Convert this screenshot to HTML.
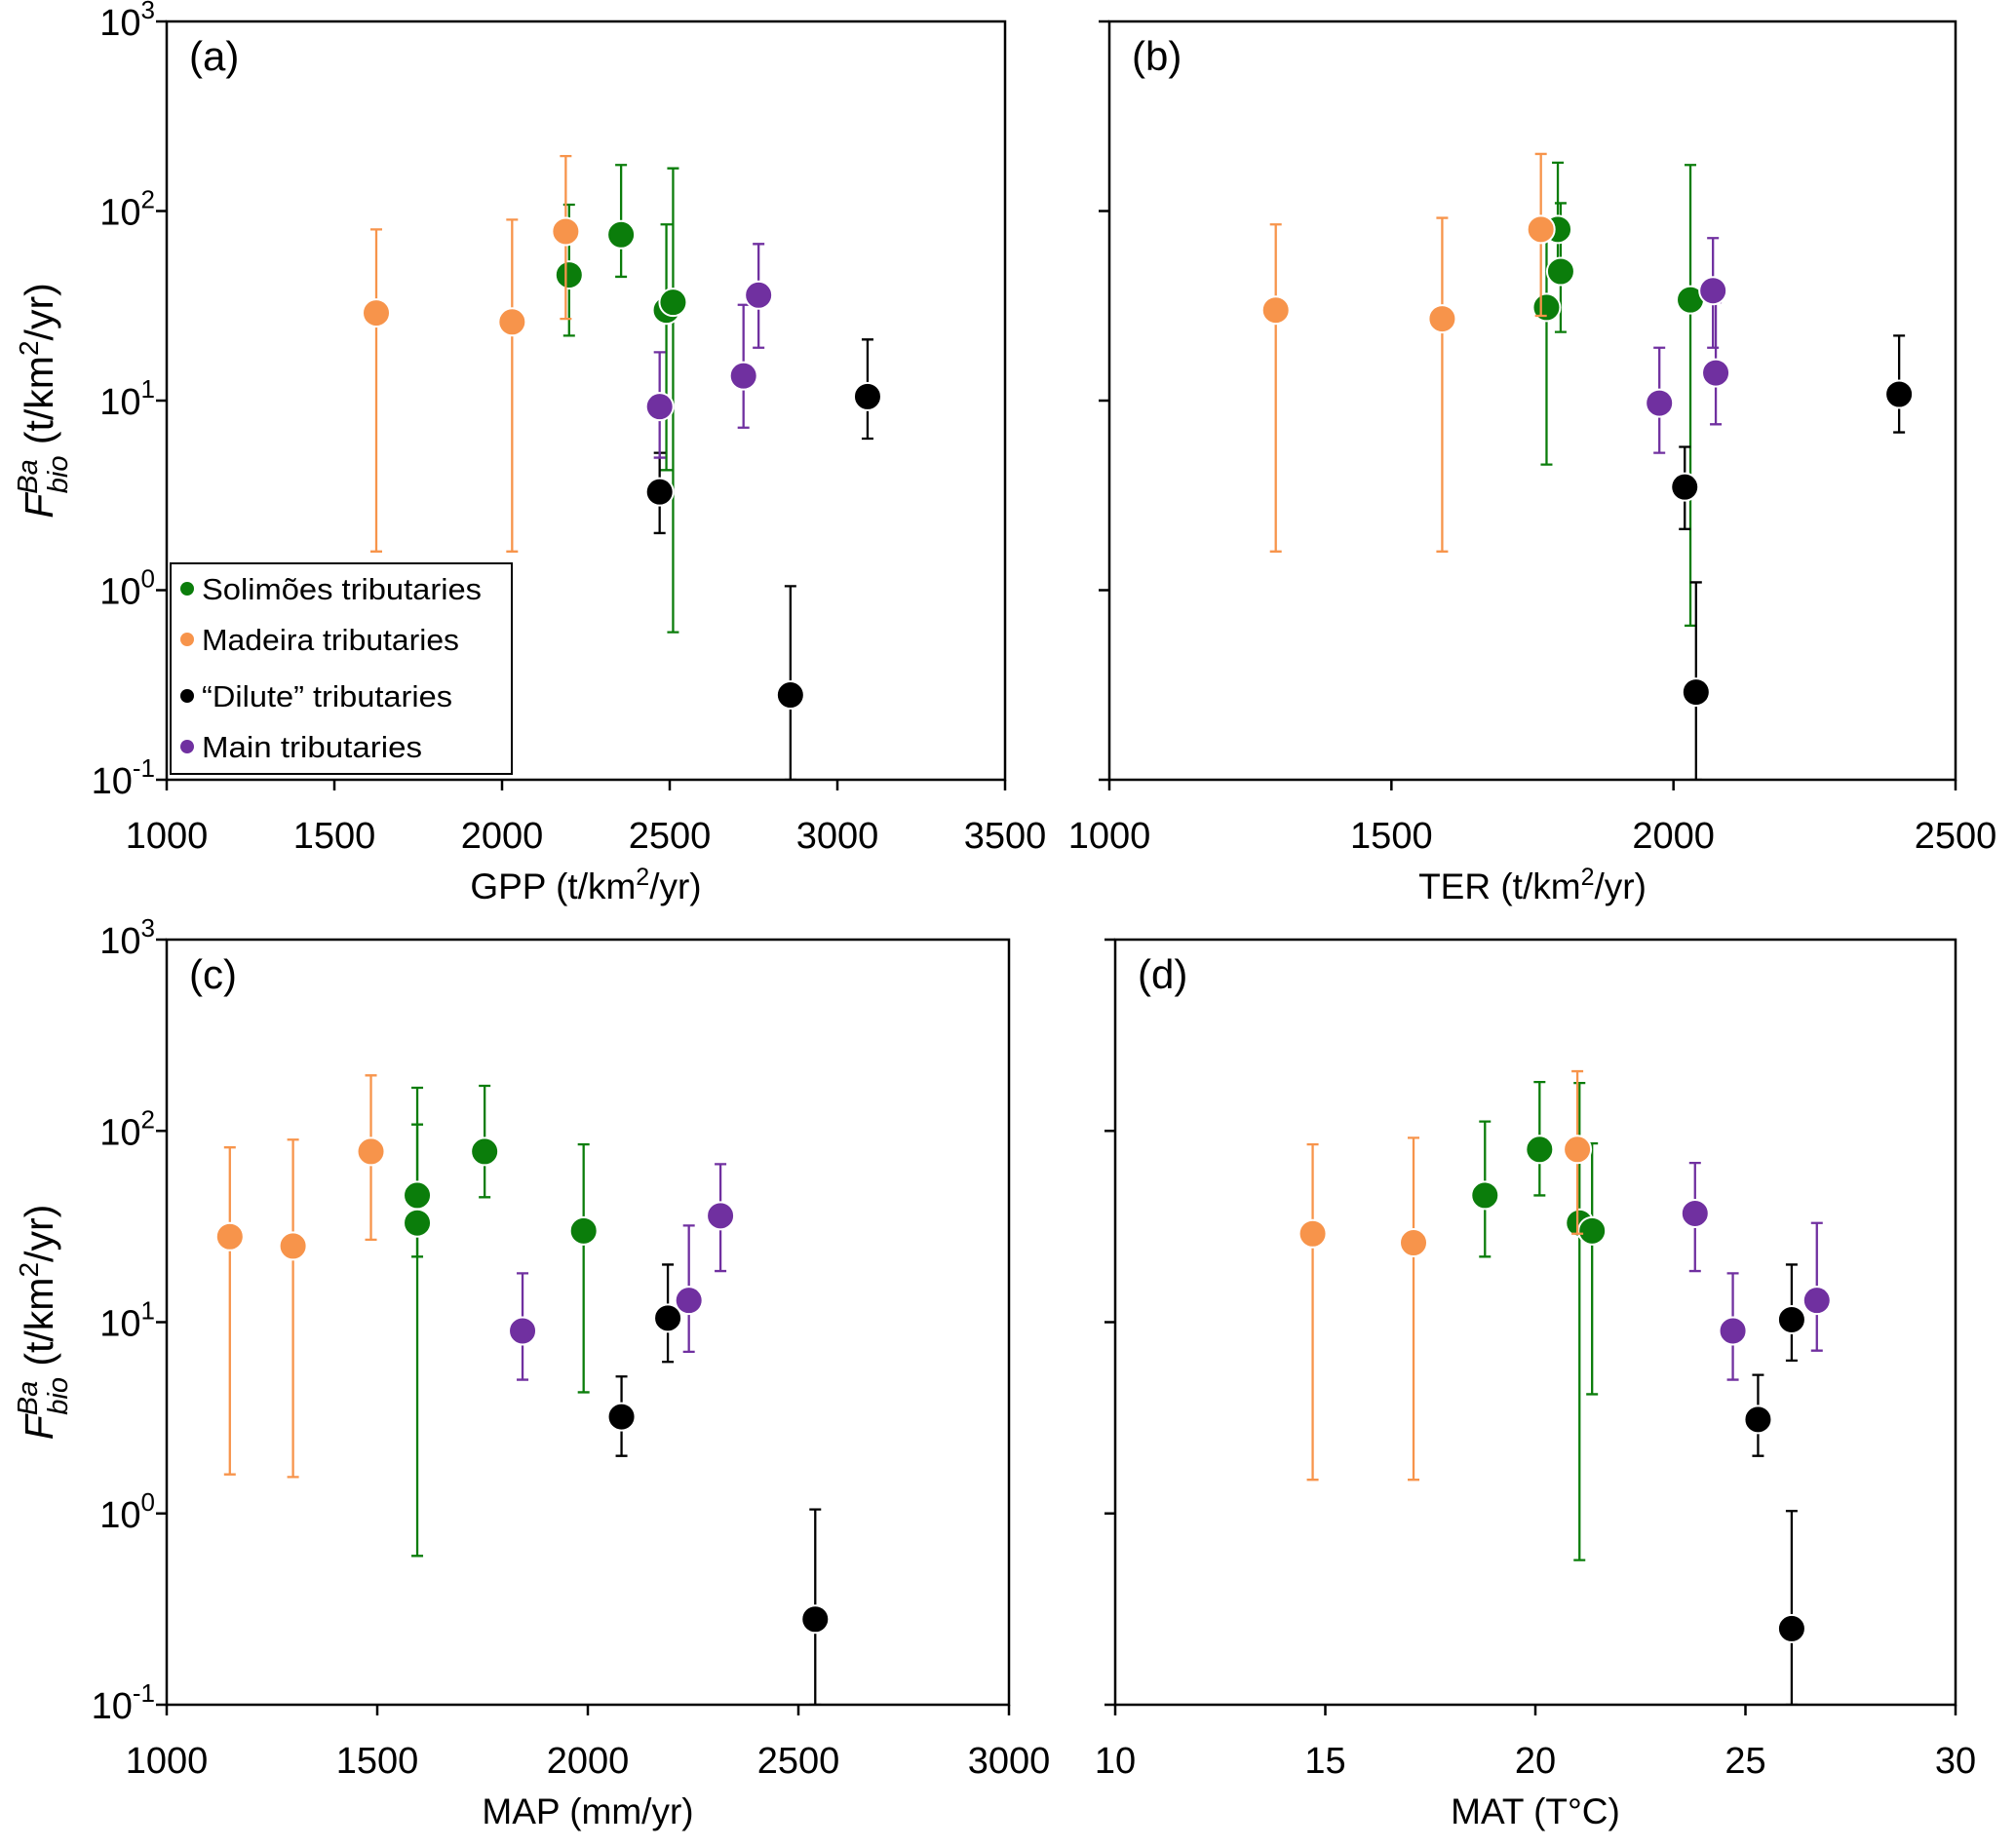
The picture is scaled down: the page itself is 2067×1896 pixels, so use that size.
<!DOCTYPE html>
<html><head><meta charset="utf-8"><style>
html,body{margin:0;padding:0;background:#fff;}
svg{display:block;font-family:"Liberation Sans",sans-serif;}
</style></head><body>
<svg id="fig" width="2067" height="1896" viewBox="0 0 2067 1896" xmlns="http://www.w3.org/2000/svg"></svg>
<script>
// series arrays per panel: [x, y, errLow, errHigh]
const seriesNames = ["Solimões tributaries","Madeira tributaries","“Dilute” tributaries","Main tributaries"];
const seriesColors = ["#0b7d0b","#f7944b","#000000","#7030a0"];
const yTickExp = [3,2,1,0,-1];

const aSolimoes = [[2200,46,22,108],[2355,75,45,175],[2490,30,4.3,85],[2510,33,0.6,168]];
const aMadeira = [[1625,29,1.6,80],[2030,26,1.6,90],[2190,78,27,195]];
const aDilute = [[2470,3.3,2,5.3],[2860,0.28,0.05,1.05],[3090,10.5,6.3,21]];
const aMain = [[2470,9.3,5,18],[2720,13.5,7.2,32],[2765,36,19,67]];

const bSolimoes = [[1775,31,4.6,80],[1795,80,45,180],[1800,48,23,110],[2030,34,0.65,175]];
const bMadeira = [[1295,30,1.6,85],[1590,27,1.6,92],[1765,80,28,200]];
const bDilute = [[2020,3.5,2.1,5.7],[2040,0.29,0.05,1.1],[2400,10.8,6.8,22]];
const bMain = [[1975,9.7,5.3,19],[2070,38,19,72],[2075,14,7.5,33]];

const cSolimoes = [[1595,46,22,108],[1595,33,0.6,168],[1755,78,45,172],[1990,30,4.3,85]];
const cMadeira = [[1150,28,1.6,82],[1300,25,1.55,90],[1485,78,27,195]];
const cDilute = [[2080,3.2,2,5.2],[2190,10.5,6.2,20],[2540,0.28,0.05,1.05]];
const cMain = [[1845,9,5,18],[2240,13,7,32],[2315,36,18.5,67]];

const dSolimoes = [[18.8,46,22,112],[20.1,80,46,180],[21.05,33,0.57,178],[21.35,30,4.2,86]];
const dMadeira = [[14.7,29,1.5,85],[17.1,26,1.5,92],[21.0,80,29,205]];
const dDilute = [[25.3,3.1,2,5.3],[26.1,10.3,6.3,20],[26.1,0.25,0.05,1.03]];
const dMain = [[23.8,37,18.5,68],[24.7,9,5,18],[26.7,13,7.1,33]];

const aTicks = [1000,1500,2000,2500,3000,3500];
const bTicks = [1000,1500,2000,2500];
const cTicks = [1000,1500,2000,2500,3000];
const dTicks = [10,15,20,25,30];

const panels = [
 {id:"a",x0:171,x1:1031,y0:22,y1:800,ticks:aTicks,series:[aSolimoes,aMadeira,aDilute,aMain],ylabels:true,title:"GPP (t/km<tspan dy='-14' font-size='25'>2</tspan><tspan dy='14'>/yr)</tspan>",legend:true},
 {id:"b",x0:1138,x1:2006,y0:22,y1:800,ticks:bTicks,series:[bSolimoes,bMadeira,bDilute,bMain],ylabels:false,title:"TER (t/km<tspan dy='-14' font-size='25'>2</tspan><tspan dy='14'>/yr)</tspan>"},
 {id:"c",x0:171,x1:1035,y0:964,y1:1749,ticks:cTicks,series:[cSolimoes,cMadeira,cDilute,cMain],ylabels:true,title:"MAP (mm/yr)"},
 {id:"d",x0:1144,x1:2006,y0:964,y1:1749,ticks:dTicks,series:[dSolimoes,dMadeira,dDilute,dMain],ylabels:false,title:"MAT (T°C)"}
];
const NS="http://www.w3.org/2000/svg";
const svg=document.getElementById('fig');
function mk(tag,attrs,parent){const e=document.createElementNS(NS,tag);for(const k in attrs)e.setAttribute(k,attrs[k]);(parent||svg).appendChild(e);return e;}

panels.forEach(p=>{
  const g=mk('g',{});
  
  
  const xmin=p.ticks[0],xmax=p.ticks[p.ticks.length-1];
  const sx=v=>p.x0+(v-xmin)/(xmax-xmin)*(p.x1-p.x0);
  const sy=v=>{const lv=Math.max(-1,Math.min(3,Math.log10(v)));return p.y1-(lv+1)/4*(p.y1-p.y0);};
  const clip=mk('clipPath',{id:'clip'+p.id},g);
  mk('rect',{x:p.x0,y:p.y0,width:p.x1-p.x0,height:p.y1-p.y0},clip);
  const frame=mk('rect',{x:p.x0,y:p.y0,width:p.x1-p.x0,height:p.y1-p.y0,fill:'none',stroke:'#000','stroke-width':2.5},g);
  
  
  yTickExp.forEach(e=>{
    const y=sy(Math.pow(10,e));
    mk('line',{x1:p.x0-11,x2:p.x0,y1:y,y2:y,stroke:'#000','stroke-width':2.5},g);
    if(p.ylabels){
      const t=mk('text',{x:p.x0-12,y:y+14,'text-anchor':'end','font-size':38},g);
      
      
      t.innerHTML='10<tspan dy="-17" font-size="26">'+e+'</tspan>';
    }
  });
  p.ticks.forEach(v=>{
    const x=sx(v);
    mk('line',{x1:x,x2:x,y1:p.y1,y2:p.y1+11,stroke:'#000','stroke-width':2.5},g);
    const t=mk('text',{x:x,y:p.y1+70,'text-anchor':'middle','font-size':38},g);
    
    
    t.textContent=v;
  });
  const xt=mk('text',{x:(p.x0+p.x1)/2,y:p.y1+122,'text-anchor':'middle','font-size':37},g);
  
  
  xt.innerHTML=p.title;
  if(p.ylabels){
    const cy=(p.y0+p.y1)/2;
    const yt=mk('text',{x:0,y:0,'text-anchor':'middle','font-size':41,transform:'translate(54,'+cy+') rotate(-90)'},g);
    
    
    yt.innerHTML='<tspan font-style="italic">F</tspan><tspan font-style="italic" font-size="29" dy="-16">Ba</tspan><tspan font-style="italic" font-size="29" dy="31" dx="-35">bio</tspan><tspan dy="-15"> (t/km</tspan><tspan dy="-15" font-size="28">2</tspan><tspan dy="15">/yr)</tspan>';
  }
  const pl=mk('text',{x:p.x0+23,y:p.y0+50,'font-size':42},g);
  
  
  pl.textContent='('+p.id+')';
  const dg=mk('g',{'clip-path':'url(#clip'+p.id+')'},g);
  p.series.forEach((s,si)=>{
    const c=seriesColors[si];
    s.forEach(d=>{
      const x=sx(d[0]);
      const eb=mk('path',{d:`M${x},${sy(d[2])}V${sy(d[3])}M${x-6},${sy(d[3])}H${x+6}M${x-6},${sy(d[2])}H${x+6}`,stroke:c,'stroke-width':2.3,fill:'none'},dg);
      
      
    });
    s.forEach(d=>{
      const pt=mk('circle',{cx:sx(d[0]),cy:sy(d[1]),r:14,fill:c,stroke:'#fff','stroke-width':2},dg);
      
      
    });
  });
  if(p.legend){
    const lg=mk('g',{},g);
    
    
    mk('rect',{x:175,y:578,width:350,height:216,fill:'#fff',stroke:'#000','stroke-width':2},lg);
    const ly=[604,656,714,766];
    seriesNames.forEach((n,i)=>{
      const le=mk('g',{},lg);
      
      
      mk('circle',{cx:192,cy:ly[i],r:7,fill:seriesColors[i]},le);
      const t=mk('text',{x:207,y:ly[i]+11,'font-size':31,textLength:i==0?287:(i==1?264:(i==2?257:226)),lengthAdjust:'spacingAndGlyphs'},le);
      t.textContent=n;
    });
  }
});
</script>
</body></html>
